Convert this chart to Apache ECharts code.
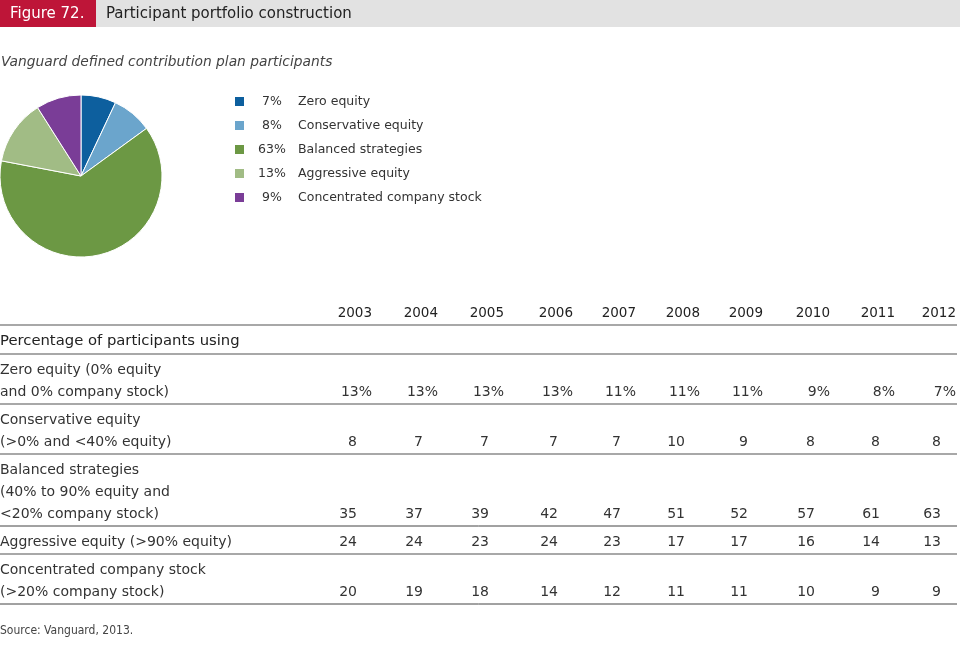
<!DOCTYPE html>
<html><head><meta charset="utf-8">
<script src="https://cdn.jsdelivr.net/npm/echarts@6/dist/echarts.min.js"></script>
<style>html,body{margin:0;padding:0;background:#fff}#c{width:960px;height:653px}</style>
</head><body><div id="c"></div>
<script>
// ---- data ----
const pieNames = ['Zero equity','Conservative equity','Balanced strategies','Aggressive equity','Concentrated company stock'];
const pieValues = [7, 8, 63, 13, 9];
const pieColors = ['#0d5f9e','#6ba5cc','#6c9844','#a1bc85','#7a3d97'];

const years = ['2003','2004','2005','2006','2007','2008','2009','2010','2011','2012'];
const rowLabels = [
  ['Zero equity (0% equity','and 0% company stock)'],
  ['Conservative equity','(>0% and <40% equity)'],
  ['Balanced strategies','(40% to 90% equity and','<20% company stock)'],
  ['Aggressive equity (>90% equity)'],
  ['Concentrated company stock','(>20% company stock)']
];
const zeroEquity = [13,13,13,13,11,11,11,9,8,7];
const conservativeEquity = [8,7,7,7,7,10,9,8,8,8];
const balancedStrategies = [35,37,39,42,47,51,52,57,61,63];
const aggressiveEquity = [24,24,23,24,23,17,17,16,14,13];
const concentratedStock = [20,19,18,14,12,11,11,10,9,9];
const rowValues = [zeroEquity, conservativeEquity, balancedStrategies, aggressiveEquity, concentratedStock];
const percentRow = [true,false,false,false,false];

const figureLabel = 'Figure 72.';
const titleText = 'Participant portfolio construction';
const subtitleText = 'Vanguard defined contribution plan participants';
const tableHeader = 'Percentage of participants using';
const sourceText = 'Source: Vanguard, 2013.';

// ---- layout ----
const FONT = '"DejaVu Sans", "Liberation Sans", sans-serif';
const TXT = '#333';
const colRight = [372,438,504,573,636,700,763,830,895,956];
const lineRight = 957;
const g = [];

// header
g.push({type:'rect', shape:{x:0,y:0,width:960,height:27}, style:{fill:'#e2e2e2'}, silent:true});
g.push({type:'rect', shape:{x:0,y:0,width:96,height:27}, style:{fill:'#be1538'}, silent:true});
g.push({type:'text', x:10, y:14, style:{text:figureLabel, fill:'#fff', font:'15px '+FONT, textVerticalAlign:'middle'}});
g.push({type:'text', x:106, y:14, style:{text:titleText, fill:'#222', font:'15px '+FONT, textVerticalAlign:'middle'}});
g.push({type:'text', x:1, y:62, style:{text:subtitleText, fill:'#444', font:'italic 13.8px '+FONT, textVerticalAlign:'middle'}});

// table header years
years.forEach((y,i)=>{
  g.push({type:'text', x:colRight[i], y:313, style:{text:y, fill:'#222', font:'13.5px '+FONT, textAlign:'right', textVerticalAlign:'middle'}});
});
function hline(y, color, w){
  g.push({type:'line', shape:{x1:0,y1:y,x2:lineRight,y2:y}, style:{stroke:color, lineWidth:w}, silent:true});
}
hline(325,'#a8a8a8',2);
g.push({type:'text', x:0, y:341, style:{text:tableHeader, fill:'#222', font:'14.8px '+FONT, textVerticalAlign:'middle'}});
hline(354,'#a8a8a8',2);

let lineY = 354;
const lineStyles = [['#a8a8a8',2],['#a8a8a8',2],['#444',1],['#a8a8a8',2],['#444',1]];
rowLabels.forEach((lab, r)=>{
  let ty = lineY + 16;
  lab.forEach((t,k)=>{
    g.push({type:'text', x:0, y:ty + k*22, style:{text:t, fill:TXT, font:'14px '+FONT, textVerticalAlign:'middle'}});
  });
  const vy = ty + (lab.length-1)*22;
  rowValues[r].forEach((v,i)=>{
    const txt = percentRow[r] ? v + '%' : String(v);
    const xr = percentRow[r] ? colRight[i] : colRight[i] - 15;
    g.push({type:'text', x:xr, y:vy, style:{text:txt, fill:TXT, font:'14px '+FONT, textAlign:'right', textVerticalAlign:'middle'}});
  });
  lineY = vy + 12;
  hline(lineY, lineStyles[r][0], lineStyles[r][1]);
});
g.push({type:'text', x:0, y:631, style:{text:sourceText, fill:'#444', font:'12px "Liberation Sans Narrow", "DejaVu Sans Condensed", sans-serif', textVerticalAlign:'middle'}});

const chart = echarts.init(document.getElementById('c'), null, {renderer:'canvas'});
chart.setOption({
  animation:false,
  color: pieColors,
  legend:{
    orient:'vertical', left:228, top:90, itemWidth:11, itemHeight:11, itemGap:11,
    icon:'rect', selectedMode:false, padding:5,
    data: pieNames,
    formatter: function(name){
      const i = pieNames.indexOf(name);
      return '{p|' + pieValues[i] + '%}{n|' + name + '}';
    },
    textStyle:{
      color:TXT, fontFamily:FONT, fontSize:12.5,
      rich:{
        p:{width:44, align:'right', fontSize:12.5, fontFamily:FONT, color:TXT},
        n:{padding:[0,0,0,4], fontSize:12.5, fontFamily:FONT, color:TXT}
      }
    }
  },
  series:[{
    type:'pie', center:[81,176], radius:81, startAngle:90, clockwise:true,
    label:{show:false}, labelLine:{show:false}, silent:true,
    itemStyle:{borderColor:'#fff', borderWidth:1},
    data: pieNames.map((n,i)=>({name:n, value:pieValues[i]}))
  }],
  graphic: g
});
</script>
</body></html>
